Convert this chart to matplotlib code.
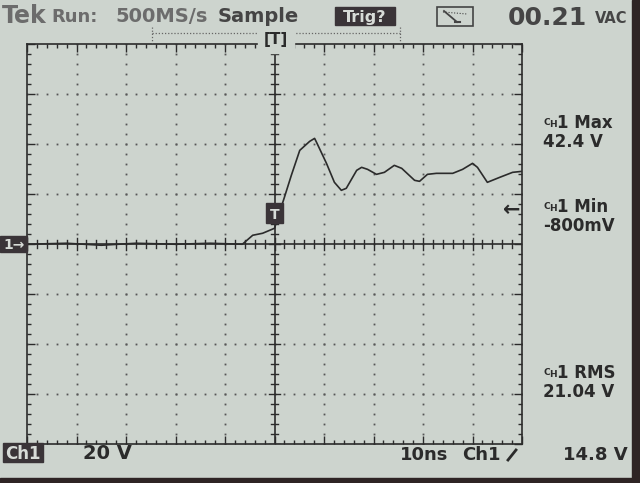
import numpy as np
import matplotlib.pyplot as plt
from matplotlib.patches import Rectangle

# scope settings / readouts
volts_per_div = 20
ns_per_div = 10
ch1_max = "42.4 V"
ch1_min = "-800mV"
ch1_rms = "21.04 V"
trig_level = 14.8
meter_text = "00.21"

# captured trace (ns, V)
t_ns = [-50, -42, -35, -28, -20, -13, -6.5, -4.4, -2.4, 0, 2.0, 3.4, 5.1,
        7.1, 8.1, 8.5, 10.5, 12.1, 13.5, 14.5, 16.6, 17.6, 18.8, 20.6, 22.2,
        24.2, 25.7, 28.3, 29.3, 30.9, 32.7, 36.0, 38.0, 40.0, 41.0, 43.0,
        45.5, 48.1, 50]
v_ch1 = [0, 0.4, -0.4, 0.4, 0, 0.4, 0, 3.6, 4.4, 6.4, 18.8, 27.6, 37.6,
         41.2, 42.4, 40.8, 32.4, 24.8, 21.6, 22.4, 29.6, 30.8, 30.0, 28.0,
         28.8, 31.6, 30.4, 25.6, 25.2, 28.0, 28.4, 28.4, 30.0, 32.4, 30.8,
         24.8, 26.8, 28.8, 29.2]

bg = '#cdd4ce'
ink = '#2b2b2b'
grey = '#6c6c6c'
W, H = 640, 483

fig = plt.figure(figsize=(6.4, 4.83), dpi=100, facecolor=bg)

# graticule axes
x0, x1, y0, y1 = 27, 522, 44.5, 444
ax = fig.add_axes([x0 / W, (H - y1) / H, (x1 - x0) / W, (y1 - y0) / H])
ax.set_facecolor(bg)
xl = 5 * ns_per_div
yl = 4 * volts_per_div
ax.set_xlim(-xl, xl)
ax.set_ylim(-yl, yl)
for s in ax.spines.values():
    s.set_color(ink)
    s.set_linewidth(1.2)

ax.set_xticks(np.arange(-xl, xl + 1, ns_per_div))
ax.set_yticks(np.arange(-yl, yl + 1, volts_per_div))
ax.set_xticks(np.arange(-xl, xl + 0.1, ns_per_div / 5), minor=True)
ax.set_yticks(np.arange(-yl, yl + 0.1, volts_per_div / 5), minor=True)
ax.tick_params(which='both', direction='in', top=True, right=True,
               labelbottom=False, labelleft=False, color=ink, width=1)
ax.tick_params(which='major', length=6)
ax.tick_params(which='minor', length=3)

# dotted grid
for gx in np.arange(-xl + ns_per_div, xl, ns_per_div):
    if gx == 0:
        continue
    yy = np.arange(-yl, yl + 0.1, volts_per_div / 5)
    ax.plot(np.full_like(yy, gx), yy, ls='none', marker='s', ms=1.3,
            color='#555555', mew=0)
for gy in np.arange(-yl + volts_per_div, yl, volts_per_div):
    if gy == 0:
        continue
    xx = np.arange(-xl, xl + 0.1, ns_per_div / 5)
    ax.plot(xx, np.full_like(xx, gy), ls='none', marker='s', ms=1.3,
            color='#555555', mew=0)

# centre crosshair with ticks
ax.axhline(0, color=ink, lw=1.2)
ax.axvline(0, color=ink, lw=1.2)
for tx in np.arange(-xl, xl + 0.1, ns_per_div / 5):
    h = 2.4 if abs(tx % ns_per_div) < 1e-6 else 1.6
    ax.plot([tx, tx], [-h, h], color=ink, lw=1)
for ty in np.arange(-yl, yl + 0.1, volts_per_div / 5):
    w = 1.2 if abs(ty % volts_per_div) < 1e-6 else 0.8
    ax.plot([-w, w], [ty, ty], color=ink, lw=1)

# trace
ax.plot(t_ns, v_ch1, color=ink, lw=1.2, zorder=5)

# overlay in pixel coordinates for readouts
ov = fig.add_axes([0, 0, 1, 1], facecolor='none')
ov.set_xlim(0, W)
ov.set_ylim(H, 0)
ov.axis('off')

fnt = dict(family='DejaVu Sans', weight='bold')

# top status line
ov.text(2, 23, "Tek", color=grey, fontsize=17, va='baseline', **fnt)
ov.text(51, 22, "Run:", color=grey, fontsize=13, va='baseline', **fnt)
ov.text(115, 22, "500MS/s", color=grey, fontsize=14, va='baseline', **fnt)
ov.text(218, 22, "Sample", color='#454545', fontsize=14, va='baseline', **fnt)
ov.add_patch(Rectangle((335, 7), 60, 18, color='#3a3438'))
ov.text(365, 22, "Trig?", color='#d8dcd8', fontsize=11.5, ha='center',
        va='baseline', **fnt)
ov.add_patch(Rectangle((437, 7), 36, 19, fill=False, ec='#444444', lw=1.2))
ov.plot([444, 457], [11, 22], color='#444444', lw=1.3)
ov.plot([443, 467], [12, 14], color='#444444', lw=0.8, ls=(0, (1, 1.5)))
ov.plot([455, 460], [22, 22], color='#444444', lw=1.5)
ov.text(508, 25, meter_text, color='#454545', fontsize=18, va='baseline',
        **fnt)
ov.text(595, 23, "VAC", color='#454545', fontsize=10.5, va='baseline', **fnt)

# record window bracket
dot = dict(color='#666666', lw=0.9, ls=(0, (1, 1.5)))
ov.plot([152, 152], [27, 43], **dot)
ov.plot([400, 400], [27, 43], **dot)
ov.plot([152, 400], [33, 33], **dot)
ov.text(276, 44, "[T]", color=ink, fontsize=11, ha='center', va='baseline',
        backgroundcolor=bg, **fnt)

# right panel measurements
def readout(y, label, value):
    ov.text(543, y - 3, "C", color=ink, fontsize=6.5, va='baseline', **fnt)
    ov.text(549, y - 1, "H", color=ink, fontsize=6.5, va='baseline', **fnt)
    ov.text(557, y, label, color=ink, fontsize=12, va='baseline', **fnt)
    ov.text(543, y + 19, value, color=ink, fontsize=12, va='baseline', **fnt)

readout(128, "1 Max", ch1_max)
readout(212, "1 Min", ch1_min)
readout(378, "1 RMS", ch1_rms)

# ground marker and trigger markers
ov.add_patch(Rectangle((0, 236), 27, 16, color='#3a3438'))
ov.text(3, 249, "1\u2192", color='#d8dcd8', fontsize=10, va='baseline', **fnt)
ov.text(503, 216, "\u2190", color=ink, fontsize=15, va='baseline', **fnt)
ov.add_patch(Rectangle((266, 203), 17, 20, color='#3a3438', zorder=6))
ov.text(274.5, 219, "T", color='#d8dcd8', fontsize=10, ha='center',
        va='baseline', zorder=7, **fnt)

# bottom status line
ov.add_patch(Rectangle((3, 443), 40, 19, color='#3a3438'))
ov.text(23, 459, "Ch1", color='#d8dcd8', fontsize=12, ha='center',
        va='baseline', **fnt)
ov.text(83, 459, f"{volts_per_div} V", color=ink, fontsize=14,
        va='baseline', **fnt)
ov.text(400, 460, f"{ns_per_div}ns", color=ink, fontsize=13, va='baseline',
        **fnt)
ov.text(462, 460, "Ch1", color=ink, fontsize=13, va='baseline', **fnt)
ov.plot([508, 516], [460, 450], color=ink, lw=2)
ov.text(563, 460, f"{trig_level} V", color=ink, fontsize=13, va='baseline',
        **fnt)

# dark photo edges
ov.add_patch(Rectangle((632, 0), 8, H, color='#2e2424'))
ov.add_patch(Rectangle((0, 478), W, 5, color='#2e2424'))

fig.savefig('out.png', dpi=100, facecolor=bg)
